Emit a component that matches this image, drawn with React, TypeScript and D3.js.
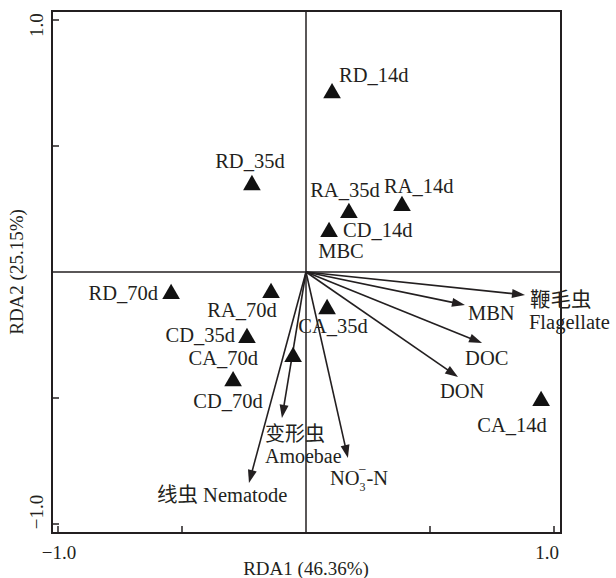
import React from "react";
import * as d3 from "d3";

const width = 616,
  height = 578;

// 样方得分 (RDA1, RDA2)
const sampleNames = ["RD_14d", "RD_35d", "RA_35d", "RA_14d", "CD_14d", "RD_70d", "RA_70d", "CD_35d", "CA_70d", "CD_70d", "CA_35d", "CA_14d"];
const sampleX = [0.105, -0.218, 0.173, 0.387, 0.093, -0.544, -0.141, -0.238, -0.052, -0.294, 0.085, 0.948];
const sampleY = [0.714, 0.349, 0.238, 0.266, 0.163, -0.083, -0.079, -0.258, -0.333, -0.429, -0.143, -0.508];

// 环境因子箭头
const envNames = ["Flagellate", "MBN", "DOC", "DON", "NO3-N", "Amoebae", "Nematode", "MBC"];
const envX = [0.883, 0.641, 0.71, 0.613, 0.169, -0.097, -0.23, 0.02];
const envY = [-0.091, -0.131, -0.282, -0.417, -0.738, -0.579, -0.837, 0.01];

const ticks = [-1, -0.5, 0.5, 1];
const tickLabels = ["−1.0", "", "", "1.0"];

// 标签偏移 (像素): [anchor, dx, dy]
const sampleLabelPos: Record<string, [string, number, number]> = {
  RD_14d: ["start", 7, -10],
  RD_35d: ["middle", -2, -16],
  RA_35d: ["middle", -4, -15],
  RA_14d: ["start", -18, -12],
  CD_14d: ["start", 14, 6],
  RD_70d: ["end", -13, 7],
  RA_70d: ["middle", -29, 25],
  CD_35d: ["end", -12, 5],
  CA_70d: ["end", -35, 9],
  CD_70d: ["middle", -5, 28],
  CA_35d: ["middle", 6, 25],
  CA_14d: ["middle", -29, 32],
};

const font = "'Liberation Serif', 'Times New Roman', 'Noto Sans CJK SC', serif";
const ink = "#231f20";

const x = d3.scaleLinear().domain([-1, 1]).range([58, 554]);
const y = d3.scaleLinear().domain([-1, 1]).range([524, 20]);

const tri = d3.symbol(d3.symbolTriangle, 135)();

function Arrow({ vx, vy }: { vx: number; vy: number }) {
  const x0 = x(0), y0 = y(0);
  const x1 = x(vx), y1 = y(vy);
  const len = Math.hypot(x1 - x0, y1 - y0);
  if (len < 20) return null;
  const ang = (Math.atan2(y1 - y0, x1 - x0) * 180) / Math.PI;
  const hl = 13;
  const ux = (x1 - x0) / len, uy = (y1 - y0) / len;
  return (
    <g>
      <line x1={x0} y1={y0} x2={x1 - ux * hl * 0.8} y2={y1 - uy * hl * 0.8} stroke={ink} strokeWidth={1.6} />
      <path d={`M0,0 L${-hl},${-4.5} L${-hl},${4.5} Z`} fill={ink} transform={`translate(${x1},${y1}) rotate(${ang})`} />
    </g>
  );
}

export default function App() {
  const ex = (n: string) => x(envX[envNames.indexOf(n)]);
  const ey = (n: string) => y(envY[envNames.indexOf(n)]);
  const fs = 20.5;
  return (
    <svg width={width} height={height} style={{ position: "absolute", left: 0, top: 0 }} fontFamily={font} fontSize={fs} fill={ink}>
      <rect x={52} y={11} width={509} height={522} fill="none" stroke={ink} strokeWidth={2} />
      <line x1={x(0)} x2={x(0)} y1={11} y2={533} stroke={ink} strokeWidth={1.5} />
      <line x1={52} x2={561} y1={y(0)} y2={y(0)} stroke={ink} strokeWidth={1.5} />

      {ticks.map((t, i) => (
        <g key={"t" + i}>
          <line x1={x(t)} x2={x(t)} y1={533} y2={526} stroke={ink} strokeWidth={1.5} />
          <line x1={52} x2={59} y1={y(t)} y2={y(t)} stroke={ink} strokeWidth={1.5} />
        </g>
      ))}
      <g fontSize={19}>
        <text x={x(-1) + 1} y={559} textAnchor="middle">{tickLabels[0]}</text>
        <text x={x(1) - 7} y={559} textAnchor="middle">{tickLabels[3]}</text>
        <text transform={`translate(43,${y(1) + 5}) rotate(-90)`} textAnchor="middle">{tickLabels[3]}</text>
        <text transform={`translate(43,${y(-1) - 12}) rotate(-90)`} textAnchor="middle">{tickLabels[0]}</text>
        <text x={306} y={575} textAnchor="middle">RDA1 (46.36%)</text>
        <text transform="translate(23,272) rotate(-90)" textAnchor="middle">RDA2 (25.15%)</text>
      </g>

      {envNames.map((n, i) => (
        <Arrow key={n} vx={envX[i]} vy={envY[i]} />
      ))}

      {sampleNames.map((n, i) => {
        const [a, dx, dy] = sampleLabelPos[n];
        return (
          <g key={n}>
            <path d={tri} transform={`translate(${x(sampleX[i])},${y(sampleY[i]) + 1})`} fill="#111" />
            <text x={x(sampleX[i]) + dx} y={y(sampleY[i]) + dy} textAnchor={a}>{n}</text>
          </g>
        );
      })}

      <text x={ex("Flagellate") + 5} y={ey("Flagellate") + 12}>鞭毛虫</text>
      <text x={ex("Flagellate") + 4} y={ey("Flagellate") + 34}>Flagellate</text>
      <text x={ex("MBN") + 3} y={ey("MBN") + 15}>MBN</text>
      <text x={ex("DOC") - 17} y={ey("DOC") + 22}>DOC</text>
      <text x={ex("DON") - 18} y={ey("DON") + 21}>DON</text>
      <text x={ex("NO3-N") - 18} y={ey("NO3-N") + 27}>
        NO
        <tspan fontSize={12} dy={6}>3</tspan>
        <tspan fontSize={14} dx={-7} dy={-17}>−</tspan>
        <tspan dy={11}>-N</tspan>
      </text>
      <text x={ex("Amoebae") - 17} y={ey("Amoebae") + 23} fontSize={20}>变形虫</text>
      <text x={ex("Amoebae") - 17} y={ey("Amoebae") + 45} fontSize={20}>Amoebae</text>
      <text x={ex("Nematode") - 92} y={ey("Nematode") + 19}>线虫 Nematode</text>
      <text x={341} y={258} textAnchor="middle">MBC</text>
    </svg>
  );
}
